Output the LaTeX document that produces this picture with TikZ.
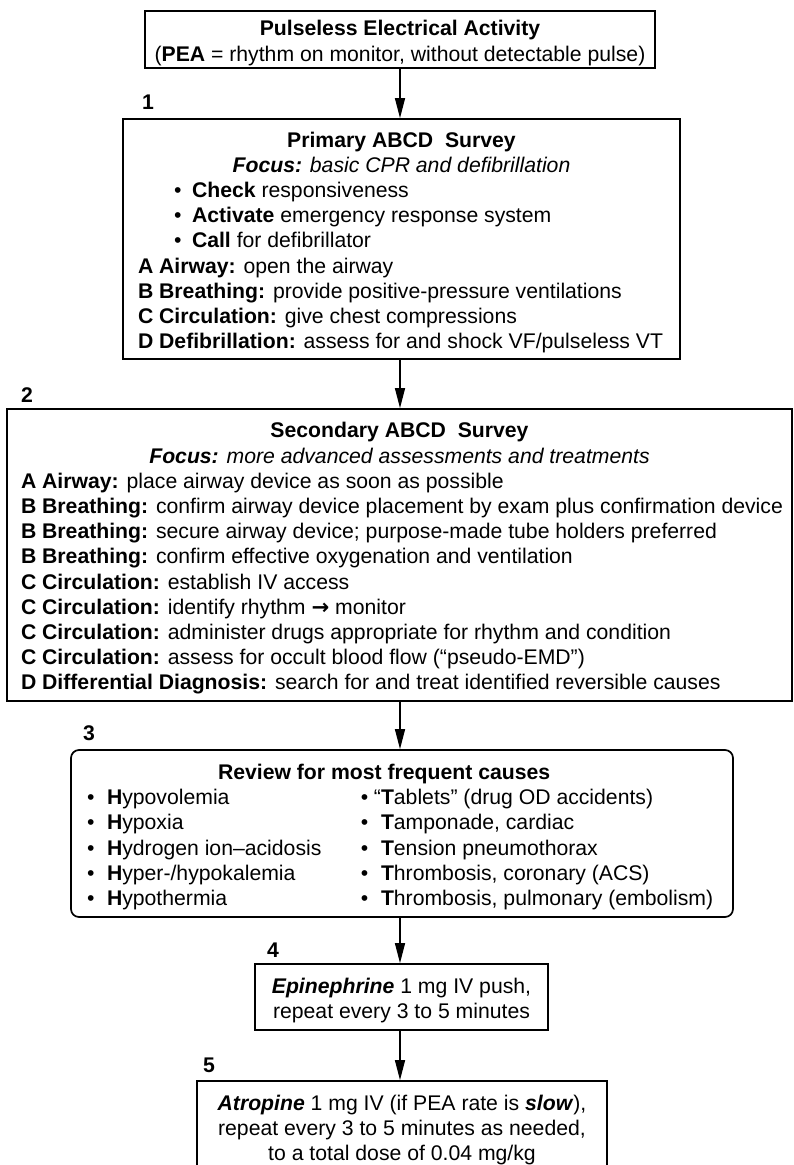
\documentclass[tikz,border=0pt]{standalone}
\usepackage{fontspec}
\setmainfont{Liberation Sans}
\newfontfamily\arrowfont{DejaVu Sans}
\usetikzlibrary{arrows.meta}
\newcommand\pbul[1][20pt]{\makebox[#1][l]{•}}
\newcommand\txtblock[2]{\vbox{\hsize=#1\baselineskip=25.2pt\lineskiplimit=-30pt\lineskip=0pt\kern7pt #2}}
\begin{document}
\begin{tikzpicture}[x=1pt,y=-1pt,
  every node/.style={font=\fontsize{21.2pt}{25.2pt}\selectfont, inner sep=0pt},
  boxnode/.style={draw, line width=1.7pt},
  lbl/.style={font=\fontsize{21.2pt}{25.2pt}\selectfont\bfseries},
  conn/.style={line width=1.3pt, -{Triangle[length=20pt,width=10pt]}}]
\useasboundingbox (0,0) rectangle (794,1165);
\fill[white] (0,0) rectangle (794,1165);

% title
\node[boxnode, minimum width=510pt, minimum height=57pt] (t) at (400,39.5)
 {\txtblock{490pt}{%
  \centerline{\textbf{Pulseless Electrical Activity}}
  \centerline{(\textbf{PEA} = rhythm on monitor, without detectable pulse)}}};

% box 1
\node[lbl] (n1) at (148,102) {1};
\node[boxnode, minimum width=557pt, minimum height=240pt] (b1) at (401.5,239)
 {\txtblock{527pt}{%
  \centerline{\textbf{Primary ABCD\ \ Survey}}
  \centerline{\textbf{\textit{Focus:}} \textit{basic CPR and defibrillation}}
  \leftline{\hspace*{36pt}\pbul[18pt]\textbf{Check} responsiveness}
  \leftline{\hspace*{36pt}\pbul[18pt]\textbf{Activate} emergency response system}
  \leftline{\hspace*{36pt}\pbul[18pt]\textbf{Call} for defibrillator}
  \leftline{\textbf{A Airway:} open the airway}
  \leftline{\textbf{B Breathing:} provide positive-pressure ventilations}
  \leftline{\textbf{C Circulation:} give chest compressions}
  \leftline{\textbf{D Defibrillation:} assess for and shock VF/pulseless VT}}};

% box 2
\node[lbl] (n2) at (27,395) {2};
\node[boxnode, minimum width=785pt, minimum height=292pt] (b2) at (399.5,555)
 {\txtblock{757pt}{%
  \centerline{\textbf{Secondary ABCD\ \ Survey}}
  \centerline{\textbf{\textit{Focus:}} \textit{more advanced assessments and treatments}}
  \leftline{\textbf{A Airway:} place airway device as soon as possible}
  \leftline{\textbf{B Breathing:} confirm airway device placement by exam plus confirmation device}
  \leftline{\textbf{B Breathing:} secure airway device; purpose-made tube holders preferred}
  \leftline{\textbf{B Breathing:} confirm effective oxygenation and ventilation}
  \leftline{\textbf{C Circulation:} establish IV access}
  \leftline{\textbf{C Circulation:} identify rhythm {\arrowfont\bfseries →} monitor}
  \leftline{\textbf{C Circulation:} administer drugs appropriate for rhythm and condition}
  \leftline{\textbf{C Circulation:} assess for occult blood flow (“pseudo-EMD”)}
  \leftline{\textbf{D Differential Diagnosis:} search for and treat identified reversible causes}}};

% box 3
\node[lbl] (n3) at (89,733) {3};
\node[boxnode, rounded corners=8pt, minimum width=662pt, minimum height=167pt] (b3) at (402,833.5)
 {\txtblock{630pt}{%
  \leftline{\hspace*{131pt}\textbf{Review for most frequent causes}}
  \leftline{\makebox[274pt][l]{\pbul\textbf{H}ypovolemia}\pbul\llap{“}\textbf{T}ablets” (drug OD accidents)}
  \leftline{\makebox[274pt][l]{\pbul\textbf{H}ypoxia}\pbul\textbf{T}amponade, cardiac}
  \leftline{\makebox[274pt][l]{\pbul\textbf{H}ydrogen ion–acidosis}\pbul\textbf{T}ension pneumothorax}
  \leftline{\makebox[274pt][l]{\pbul\textbf{H}yper-/hypokalemia}\pbul\textbf{T}hrombosis, coronary (ACS)}
  \leftline{\makebox[274pt][l]{\pbul\textbf{H}ypothermia}\pbul\textbf{T}hrombosis, pulmonary (embolism)}}};

% box 4
\node[lbl] (n4) at (273,950) {4};
\node[boxnode, minimum width=293pt, minimum height=66pt] (b4) at (401.5,997)
 {\txtblock{273pt}{%
  \centerline{\textbf{\textit{Epinephrine}} 1 mg IV push,}
  \centerline{repeat every 3 to 5 minutes}}};

% box 5
\node[lbl] (n5) at (209,1065) {5};
\node[boxnode, minimum width=410pt, minimum height=91pt] (b5) at (402,1126.5)
 {\txtblock{390pt}{%
  \centerline{\textbf{\textit{Atropine}} 1 mg IV (if PEA rate is \textbf{\textit{slow}}),}
  \centerline{repeat every 3 to 5 minutes as needed,}
  \centerline{to a total dose of 0.04 mg/kg}}};

% connectors
\draw[conn] (t.south) -- (t.south |- b1.north);
\draw[conn] (t.south |- b1.south) -- (t.south |- b2.north);
\draw[conn] (t.south |- b2.south) -- (t.south |- b3.north);
\draw[conn] (t.south |- b3.south) -- (t.south |- b4.north);
\draw[conn] (t.south |- b4.south) -- (t.south |- b5.north);
\end{tikzpicture}
\end{document}
